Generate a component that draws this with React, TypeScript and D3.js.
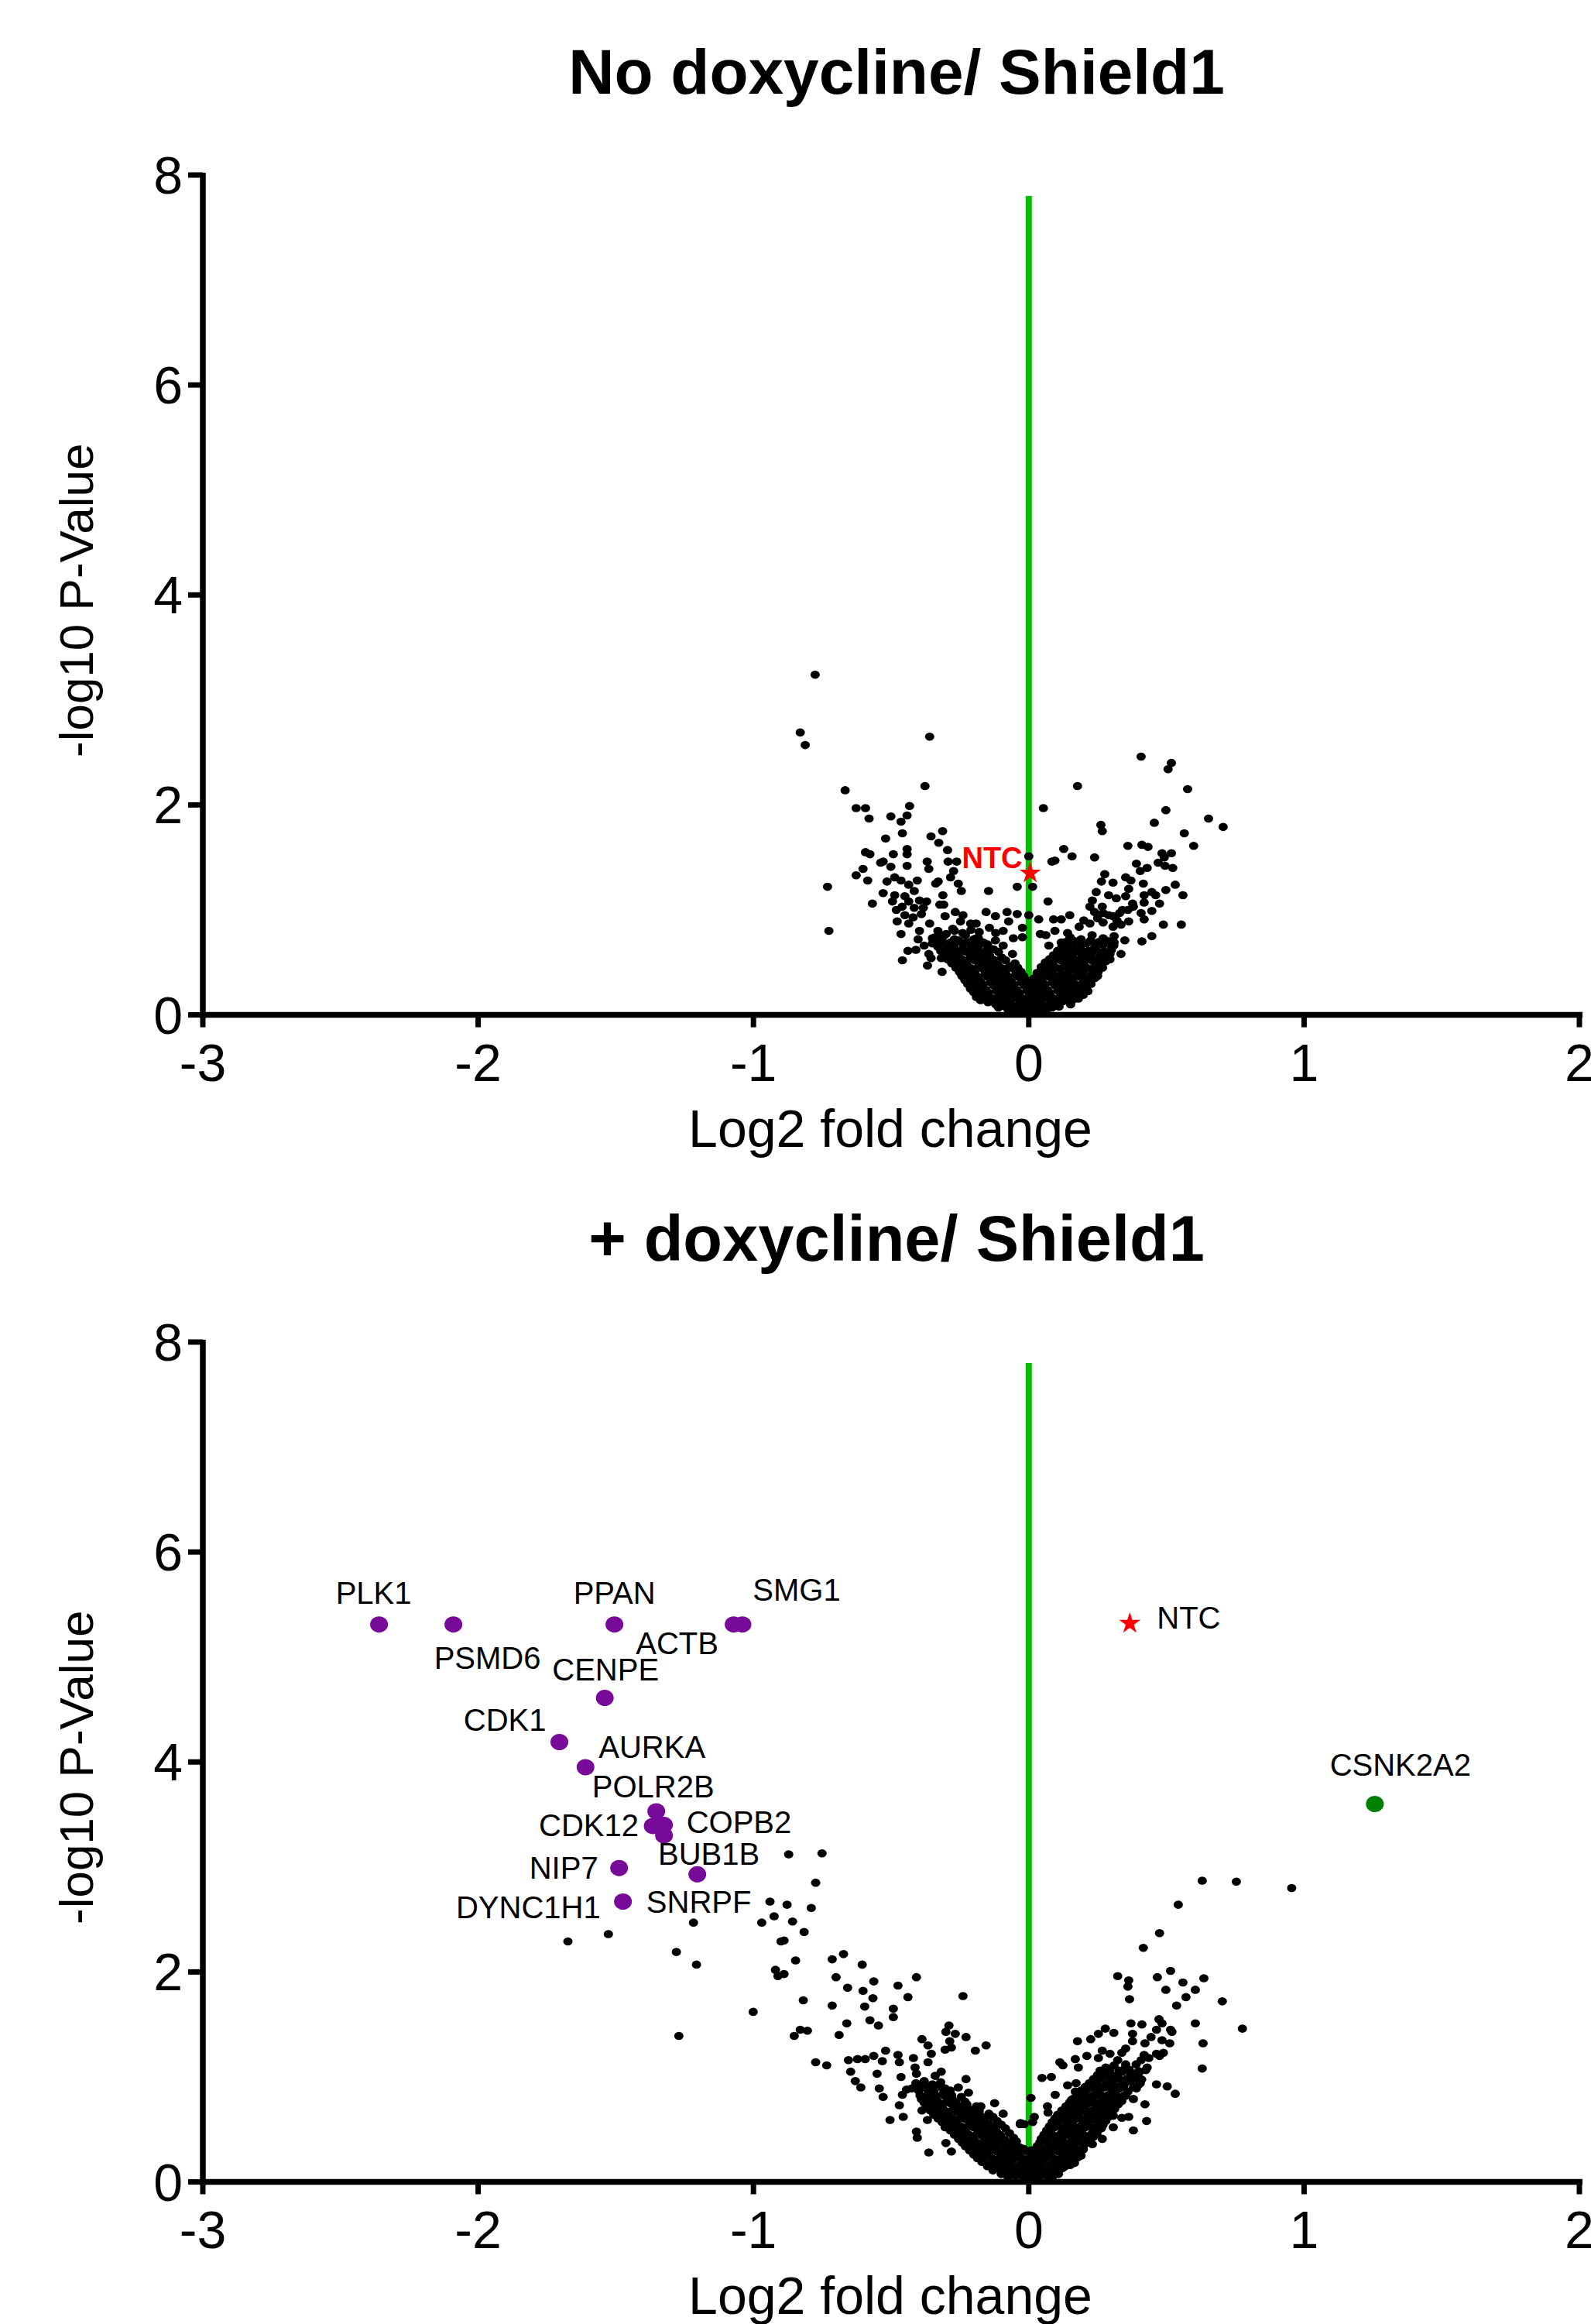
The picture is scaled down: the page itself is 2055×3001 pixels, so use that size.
import React from 'react';
import * as d3 from 'd3';

const xTicks = [-3, -2, -1, 0, 1, 2];
const yTicks = [0, 2, 4, 6, 8];

// ---- No doxycline / Shield1 : [log2 FC, -log10 p] ----
const noDoxSpread: [number, number][] = [
  [-0.776, 3.24],
  [-0.830, 2.69], [-0.812, 2.57], [-0.360, 2.65], [-0.667, 2.14], [-0.377, 2.18], [-0.627, 1.97], [-0.593, 1.97],
  [-0.580, 1.87], [-0.433, 1.99], [-0.501, 1.89], [-0.442, 1.90], [-0.464, 1.84], [-0.459, 1.73], [-0.520, 1.68],
  [-0.313, 1.75], [-0.355, 1.70], [-0.327, 1.64], [-0.295, 1.57], [-0.442, 1.58], [-0.442, 1.53], [-0.492, 1.53],
  [-0.593, 1.55], [-0.577, 1.53], [-0.538, 1.45], [-0.529, 1.46], [-0.501, 1.41], [-0.442, 1.42], [-0.369, 1.46],
  [-0.363, 1.39], [-0.293, 1.46], [-0.262, 1.46], [-0.273, 1.37], [-0.284, 1.31], [-0.256, 1.25], [-0.245, 1.18],
  [-0.602, 1.39], [-0.627, 1.33], [-0.585, 1.28], [-0.731, 1.22], [-0.726, 0.80], [-0.568, 1.06], [-0.515, 1.27],
  [-0.487, 1.31], [-0.464, 1.28], [-0.436, 1.24], [-0.416, 1.18], [-0.405, 1.28], [-0.529, 1.16], [-0.487, 1.14],
  [-0.495, 1.08], [-0.450, 1.13], [-0.436, 1.08], [-0.397, 1.09], [-0.371, 1.08], [-0.481, 1.00], [-0.416, 1.02],
  [-0.383, 1.02], [-0.338, 1.25], [-0.329, 1.27], [-0.312, 1.14], [-0.323, 1.05], [-0.309, 1.05], [-0.146, 1.18],
  [-0.042, 1.22], [0.014, 1.22], [0.0, 1.51], [0.053, 1.97], [0.084, 1.46], [0.070, 1.08], [-0.478, 0.89],
  [-0.464, 0.77], [-0.439, 0.61], [-0.459, 0.52], [-0.368, 0.47], [-0.315, 0.41], [-0.318, 0.54], [-0.363, 0.58],
  [-0.355, 0.54], [-0.402, 0.72], [-0.397, 0.80], [-0.436, 0.87], [-0.360, 0.87], [-0.340, 0.74], [-0.304, 0.94],
  [-0.267, 0.98], [-0.239, 0.95], [-0.248, 0.89], [-0.276, 0.82], [-0.191, 0.87], [-0.155, 0.98], [-0.121, 0.94],
  [-0.079, 0.98], [-0.042, 0.96], [0.0, 0.95], [0.036, 0.91], [-0.073, 0.89], [-0.143, 0.83], [-0.023, 0.83],
  [-0.093, 0.80], [-0.056, 0.73], [-0.121, 0.71], [-0.093, 0.66], [-0.023, 0.74], [0.062, 0.76], [0.073, 0.66],
  [0.042, 0.77], [-0.059, 0.58], [-0.211, 0.87], [-0.183, 0.73], [-0.149, 0.67], [-0.200, 0.28], [-0.228, 0.43],
  [0.408, 2.46], [0.518, 2.40], [0.506, 2.34], [0.177, 2.18], [0.577, 2.15], [0.498, 1.95], [0.653, 1.87],
  [0.706, 1.79], [0.456, 1.83], [0.262, 1.81], [0.267, 1.75], [0.565, 1.73], [0.360, 1.61], [0.411, 1.62],
  [0.433, 1.60], [0.599, 1.61], [0.127, 1.58], [0.157, 1.51], [0.095, 1.47], [0.239, 1.50], [0.484, 1.54],
  [0.518, 1.54], [0.492, 1.50], [0.470, 1.45], [0.391, 1.44], [0.430, 1.40], [0.495, 1.42], [0.523, 1.40],
  [0.405, 1.37], [0.276, 1.34], [0.352, 1.31], [0.264, 1.27], [0.306, 1.26], [0.371, 1.28], [0.416, 1.25],
  [0.532, 1.24], [0.498, 1.19], [0.363, 1.20], [0.245, 1.17], [0.290, 1.14], [0.318, 1.11], [0.352, 1.13],
  [0.419, 1.14], [0.447, 1.17], [0.461, 1.14], [0.560, 1.14], [0.475, 1.06], [0.419, 1.07], [0.377, 1.06],
  [0.231, 1.09], [0.222, 1.03], [0.267, 1.03], [0.270, 0.97], [0.239, 0.98], [0.340, 1.00], [0.408, 0.97],
  [0.447, 0.99], [0.419, 0.91], [0.363, 0.89], [0.489, 0.86], [0.554, 0.86], [0.447, 0.75], [0.411, 0.70],
  [0.149, 0.95], [0.118, 0.91], [0.090, 0.91], [0.095, 0.80], [0.141, 0.78], [0.183, 0.84], [0.222, 0.87],
  [0.306, 0.94], [0.335, 0.86], [0.306, 0.84], [0.349, 0.71], [0.335, 0.58], [0.309, 0.66], [0.273, 0.69],
  [0.188, 0.71], [0.155, 0.66], [0.118, 0.69], [0.250, 0.43], [0.236, 0.35], [0.197, 0.27], [0.183, 0.22],
  [0.278, 0.55], [0.295, 0.58], [0.231, 0.61], [0.20, 0.90], [0.25, 0.92], [0.29, 0.95], [0.33, 0.97],
  [0.36, 1.00], [0.38, 1.03], [0.32, 0.90], [0.27, 0.88],
  [-0.33, 0.80], [-0.30, 0.77], [-0.27, 0.80], [-0.24, 0.78], [-0.21, 0.81], [-0.18, 0.79], [-0.12, 0.78],
  [-0.26, 0.70], [-0.20, 0.72], [-0.38, 0.66], [-0.41, 0.62], [-0.35, 0.68], [-0.45, 0.95], [-0.42, 0.93],
  [-0.39, 0.96], [-0.46, 1.03],
];

// dense core of the no-dox cloud
const noDoxCore: [number, number][] = [
  [-0.075, 0.05], [-0.05, 0.03], [-0.025, 0.06], [0.0, 0.04], [0.022, 0.05], [0.048, 0.03], [0.07, 0.06], [-0.01, 0.02],
  [-0.11, 0.07], [-0.085, 0.08], [-0.06, 0.06], [-0.035, 0.08], [-0.012, 0.07], [0.012, 0.08], [0.036, 0.06],
  [0.06, 0.08], [0.085, 0.07], [0.11, 0.08],
  [-0.148, 0.12], [-0.12, 0.10], [-0.094, 0.13], [-0.066, 0.11], [-0.04, 0.09], [-0.012, 0.12], [0.015, 0.10],
  [0.043, 0.12], [0.07, 0.09], [0.097, 0.11], [0.125, 0.13], [0.152, 0.10],
  [-0.175, 0.14], [-0.15, 0.155], [-0.122, 0.145], [-0.094, 0.15], [-0.066, 0.14], [-0.038, 0.155], [-0.01, 0.145],
  [0.018, 0.15], [0.046, 0.14], [0.074, 0.155], [0.102, 0.145], [0.13, 0.15], [0.158, 0.14], [0.18, 0.155],
  [-0.19, 0.17], [-0.163, 0.19], [-0.135, 0.16], [-0.108, 0.19], [-0.08, 0.17], [-0.052, 0.20], [-0.024, 0.16],
  [0.004, 0.19], [0.032, 0.17], [0.06, 0.20], [0.088, 0.16], [0.116, 0.18], [0.144, 0.20], [0.172, 0.17], [0.198, 0.19],
  [-0.20, 0.215], [-0.174, 0.225], [-0.146, 0.21], [-0.118, 0.23], [-0.09, 0.215], [-0.062, 0.225], [-0.034, 0.21],
  [-0.006, 0.23], [0.022, 0.215], [0.05, 0.225], [0.078, 0.21], [0.106, 0.23], [0.134, 0.215], [0.162, 0.225],
  [0.19, 0.21], [0.215, 0.225],
  [-0.212, 0.25], [-0.184, 0.27], [-0.156, 0.24], [-0.128, 0.28], [-0.10, 0.25], [-0.072, 0.27], [-0.044, 0.24],
  [-0.016, 0.28], [0.012, 0.25], [0.04, 0.27], [0.068, 0.24], [0.096, 0.28], [0.124, 0.25], [0.152, 0.27],
  [0.18, 0.24], [0.21, 0.27],
  [-0.222, 0.295], [-0.194, 0.305], [-0.166, 0.29], [-0.138, 0.31], [-0.11, 0.295], [-0.082, 0.305], [-0.054, 0.29],
  [-0.026, 0.31], [0.002, 0.295], [0.03, 0.305], [0.058, 0.29], [0.086, 0.31], [0.114, 0.295], [0.142, 0.305],
  [0.17, 0.29], [0.198, 0.31], [0.226, 0.295],
  [-0.232, 0.33], [-0.204, 0.35], [-0.176, 0.32], [-0.148, 0.36], [-0.12, 0.33], [-0.092, 0.35], [-0.064, 0.32],
  [-0.036, 0.36], [-0.008, 0.33], [0.02, 0.35], [0.048, 0.32], [0.076, 0.36], [0.104, 0.33], [0.132, 0.35],
  [0.16, 0.32], [0.188, 0.36], [0.216, 0.33], [0.24, 0.35],
  [-0.243, 0.37], [-0.215, 0.38], [-0.187, 0.365], [-0.159, 0.385], [-0.131, 0.37], [-0.103, 0.38], [-0.075, 0.365],
  [-0.047, 0.385], [-0.019, 0.37], [0.034, 0.375], [0.062, 0.38], [0.09, 0.365], [0.118, 0.385], [0.146, 0.37],
  [0.174, 0.38], [0.202, 0.365], [0.23, 0.385], [0.25, 0.37],
  [-0.252, 0.41], [-0.224, 0.43], [-0.196, 0.40], [-0.168, 0.44], [-0.14, 0.41], [-0.112, 0.43], [-0.084, 0.40],
  [-0.056, 0.44], [-0.028, 0.41], [0.03, 0.40], [0.058, 0.43], [0.086, 0.41], [0.114, 0.44], [0.142, 0.40],
  [0.17, 0.43], [0.198, 0.41], [0.226, 0.44], [0.252, 0.41],
  [-0.265, 0.45], [-0.238, 0.46], [-0.21, 0.445], [-0.182, 0.465], [-0.154, 0.45], [-0.126, 0.46], [-0.098, 0.445],
  [-0.07, 0.465], [-0.04, 0.45], [0.045, 0.455], [0.073, 0.46], [0.101, 0.445], [0.129, 0.465], [0.157, 0.45],
  [0.185, 0.46], [0.213, 0.445], [0.241, 0.465], [0.268, 0.45],
  [-0.28, 0.49], [-0.252, 0.51], [-0.224, 0.48], [-0.196, 0.52], [-0.168, 0.49], [-0.14, 0.51], [-0.112, 0.48],
  [-0.084, 0.52], [-0.05, 0.49], [0.06, 0.50], [0.088, 0.48], [0.116, 0.52], [0.144, 0.49], [0.172, 0.51],
  [0.20, 0.48], [0.228, 0.52], [0.256, 0.49], [0.28, 0.51],
  [-0.295, 0.53], [-0.268, 0.54], [-0.24, 0.525], [-0.212, 0.545], [-0.184, 0.53], [-0.156, 0.54], [-0.128, 0.525],
  [-0.098, 0.545], [0.075, 0.53], [0.103, 0.54], [0.131, 0.525], [0.159, 0.545], [0.187, 0.53], [0.215, 0.54],
  [0.243, 0.525], [0.27, 0.545], [0.295, 0.53],
  [-0.31, 0.57], [-0.282, 0.59], [-0.254, 0.56], [-0.226, 0.60], [-0.198, 0.57], [-0.17, 0.59], [-0.142, 0.56],
  [-0.11, 0.60], [0.09, 0.57], [0.118, 0.59], [0.146, 0.56], [0.174, 0.60], [0.20, 0.57], [0.23, 0.59],
  [0.26, 0.56], [0.29, 0.58],
  [-0.32, 0.61], [-0.295, 0.62], [-0.268, 0.605], [-0.24, 0.625], [-0.212, 0.61], [-0.184, 0.62], [-0.156, 0.605],
  [-0.128, 0.625], [0.105, 0.61], [0.133, 0.62], [0.161, 0.605], [0.189, 0.625], [0.217, 0.61], [0.245, 0.62],
  [0.273, 0.605], [0.30, 0.62],
  [-0.33, 0.65], [-0.30, 0.67], [-0.27, 0.64], [-0.24, 0.68], [-0.21, 0.65], [-0.18, 0.67], [-0.15, 0.64],
  [0.12, 0.65], [0.15, 0.67], [0.18, 0.64], [0.21, 0.68], [0.24, 0.65], [0.27, 0.67], [0.30, 0.64],
  [-0.34, 0.695], [-0.315, 0.705], [-0.285, 0.69], [-0.255, 0.71], [-0.225, 0.695], [-0.195, 0.705], [-0.165, 0.69],
  [0.135, 0.695], [0.165, 0.705], [0.195, 0.69], [0.225, 0.71], [0.255, 0.695], [0.285, 0.705], [0.31, 0.69],
  [-0.35, 0.73], [-0.31, 0.75], [-0.27, 0.72], [-0.23, 0.76], [-0.19, 0.73], [0.15, 0.74], [0.19, 0.72],
  [0.23, 0.76], [0.27, 0.73], [0.31, 0.75],
];

const noDoxNTC: [number, number] = [0.005, 1.35];

// ---- + doxycline / Shield1 ----
const doxSpread: [number, number][] = [
  [-1.674, 2.29], [-1.527, 2.36], [-1.218, 2.47], [-1.280, 2.19], [-1.207, 2.07], [-1.271, 1.39], [-1.001, 1.62],
  [-0.940, 2.67], [-0.925, 2.53], [-0.970, 2.47], [-0.900, 2.29], [-0.920, 2.02], [-0.911, 1.96],
  [-0.872, 3.12], [-0.751, 3.13], [-0.774, 2.85], [-0.878, 2.64], [-0.790, 2.61], [-0.858, 2.48], [-0.816, 2.38],
  [-0.889, 2.30], [-0.847, 2.11], [-0.889, 1.98], [-0.714, 2.12], [-0.673, 2.17], [-0.605, 2.07], [-0.700, 1.95],
  [-0.658, 1.85], [-0.563, 1.91], [-0.602, 1.82], [-0.566, 1.75], [-0.475, 1.87], [-0.408, 1.95], [-0.439, 1.76],
  [-0.239, 1.77], [-0.819, 1.73], [-0.714, 1.68], [-0.596, 1.67], [-0.492, 1.65], [-0.492, 1.57], [-0.661, 1.51],
  [-0.577, 1.54], [-0.546, 1.49], [-0.689, 1.40], [-0.852, 1.39], [-0.830, 1.45], [-0.804, 1.44], [-0.774, 1.14],
  [-0.734, 1.11], [-0.655, 1.16], [-0.622, 1.17], [-0.594, 1.17], [-0.563, 1.20], [-0.520, 1.25], [-0.532, 1.15],
  [-0.475, 1.21], [-0.470, 1.14], [-0.419, 1.18], [-0.366, 1.14], [-0.388, 1.36], [-0.366, 1.30], [-0.354, 1.22],
  [-0.290, 1.49], [-0.301, 1.43], [-0.267, 1.41], [-0.287, 1.34], [-0.304, 1.26], [-0.281, 1.28], [-0.228, 1.38],
  [-0.194, 1.25], [-0.155, 1.30], [-0.647, 1.05], [-0.630, 0.96], [-0.610, 0.90], [-0.551, 1.03], [-0.543, 0.89],
  [-0.529, 0.81], [-0.464, 1.00], [-0.413, 1.09], [-0.408, 1.03], [-0.459, 0.83], [-0.470, 0.73], [-0.456, 0.62],
  [-0.504, 0.59], [-0.408, 0.48], [-0.405, 0.42], [-0.363, 0.28], [-0.281, 0.29], [-0.301, 0.37], [-0.388, 0.68],
  [-0.444, 0.88], [-0.425, 0.89], [-0.380, 0.94], [-0.340, 1.01], [-0.318, 1.05], [-0.340, 0.81], [-0.332, 0.72],
  [-0.368, 0.59], [-0.304, 0.89], [-0.256, 0.90], [-0.228, 0.98], [-0.219, 0.85], [-0.284, 0.77], [-0.239, 0.72],
  [-0.174, 0.72], [-0.124, 0.75], [-0.093, 0.65], [-0.031, 0.55], [-0.312, 0.59], [-0.304, 0.52], [-0.219, 0.59],
  [-0.183, 0.52], [-0.228, 0.35], [-0.155, 0.47], [-0.107, 0.55], [-0.098, 0.10],
  [0.630, 2.87], [0.754, 2.86], [0.955, 2.80], [0.543, 2.64], [0.475, 2.37], [0.416, 2.23], [0.323, 1.96],
  [0.363, 1.92], [0.360, 1.86], [0.366, 1.74], [0.467, 1.95], [0.515, 2.01], [0.498, 1.83], [0.560, 1.90],
  [0.636, 1.94], [0.605, 1.83], [0.571, 1.76], [0.537, 1.68], [0.703, 1.72], [0.605, 1.51], [0.776, 1.46],
  [0.633, 1.32], [0.630, 1.08], [0.371, 1.51], [0.411, 1.50], [0.473, 1.55], [0.484, 1.51], [0.464, 1.45],
  [0.515, 1.45], [0.520, 1.43], [0.377, 1.41], [0.444, 1.38], [0.484, 1.35], [0.512, 1.32], [0.422, 1.32],
  [0.377, 1.34], [0.278, 1.46], [0.309, 1.42], [0.253, 1.41], [0.225, 1.36], [0.177, 1.34], [0.352, 1.27],
  [0.338, 1.23], [0.295, 1.22], [0.267, 1.25], [0.253, 1.18], [0.211, 1.20], [0.169, 1.17], [0.113, 1.14],
  [0.124, 1.11], [0.180, 1.09], [0.419, 1.21], [0.436, 1.18], [0.464, 1.22], [0.489, 1.23], [0.475, 1.20],
  [0.408, 1.16], [0.323, 1.16], [0.352, 1.12], [0.048, 0.99], [0.082, 1.00], [0.141, 0.92], [0.172, 0.94],
  [0.096, 0.83], [0.169, 0.86], [0.242, 0.96], [0.259, 1.06], [0.287, 1.03], [0.329, 1.06], [0.349, 0.94],
  [0.385, 1.03], [0.405, 0.94], [0.391, 0.89], [0.464, 0.93], [0.503, 0.91], [0.532, 0.84], [0.352, 0.82],
  [0.380, 0.79], [0.422, 0.74], [0.428, 0.58], [0.380, 0.49], [0.363, 0.62], [0.338, 0.61], [0.307, 0.52],
  [0.307, 0.63], [0.264, 0.51], [0.267, 0.41], [0.231, 0.36], [0.068, 0.72], [0.070, 0.66], [0.008, 0.80],
  [0.020, 0.62], [0.014, 0.57], [0.155, 0.78], [-0.017, 0.55], [-0.03, 0.56], [0.098, 0.14], [0.062, 0.07],
];

// dense V-shaped core of the dox cloud
const doxCore: [number, number][] = [
  [-0.075, 0.04], [-0.048, 0.06], [-0.02, 0.03], [0.008, 0.05], [0.036, 0.03], [0.064, 0.06], [0.085, 0.04],
  [-0.10, 0.075], [-0.074, 0.08], [-0.046, 0.07], [-0.018, 0.085], [0.01, 0.075], [0.038, 0.08], [0.066, 0.07],
  [0.094, 0.085], [0.108, 0.075],
  [-0.13, 0.11], [-0.102, 0.13], [-0.074, 0.10], [-0.046, 0.12], [-0.018, 0.10], [0.01, 0.13], [0.038, 0.11],
  [0.066, 0.12], [0.094, 0.10], [0.122, 0.13],
  [-0.15, 0.15], [-0.122, 0.155], [-0.094, 0.145], [-0.066, 0.16], [-0.038, 0.15], [-0.01, 0.155], [0.018, 0.145],
  [0.046, 0.16], [0.074, 0.15], [0.102, 0.155], [0.13, 0.145], [0.15, 0.16],
  [-0.17, 0.19], [-0.142, 0.17], [-0.114, 0.20], [-0.086, 0.18], [-0.058, 0.21], [-0.03, 0.17], [-0.002, 0.20],
  [0.026, 0.18], [0.054, 0.21], [0.082, 0.17], [0.11, 0.19], [0.138, 0.20], [0.166, 0.18],
  [-0.186, 0.225], [-0.158, 0.235], [-0.13, 0.22], [-0.102, 0.24], [-0.074, 0.225], [-0.046, 0.235], [-0.018, 0.22],
  [0.01, 0.24], [0.038, 0.225], [0.066, 0.235], [0.094, 0.22], [0.122, 0.24], [0.15, 0.225], [0.178, 0.235],
  [-0.20, 0.26], [-0.172, 0.28], [-0.144, 0.25], [-0.116, 0.29], [-0.088, 0.26], [-0.06, 0.28], [-0.032, 0.25],
  [-0.004, 0.29], [0.024, 0.26], [0.052, 0.28], [0.08, 0.25], [0.108, 0.29], [0.136, 0.26], [0.164, 0.28], [0.19, 0.25],
  [-0.215, 0.30], [-0.187, 0.31], [-0.159, 0.295], [-0.131, 0.315], [-0.103, 0.30], [-0.075, 0.31], [-0.047, 0.295],
  [-0.019, 0.315], [0.009, 0.30], [0.037, 0.31], [0.065, 0.295], [0.093, 0.315], [0.121, 0.30], [0.149, 0.31],
  [0.177, 0.295], [0.198, 0.31],
  [-0.23, 0.34], [-0.202, 0.32], [-0.174, 0.35], [-0.146, 0.33], [-0.118, 0.36], [-0.09, 0.32], [-0.062, 0.35],
  [-0.034, 0.33], [0.03, 0.34], [0.058, 0.32], [0.086, 0.35], [0.114, 0.33], [0.142, 0.36], [0.17, 0.32], [0.20, 0.35],
  [-0.242, 0.375], [-0.214, 0.385], [-0.186, 0.37], [-0.158, 0.39], [-0.13, 0.375], [-0.102, 0.385], [-0.074, 0.37],
  [-0.045, 0.385], [0.04, 0.375], [0.068, 0.385], [0.096, 0.37], [0.124, 0.39], [0.152, 0.375], [0.18, 0.385],
  [0.208, 0.37], [0.222, 0.39],
  [-0.255, 0.41], [-0.227, 0.43], [-0.199, 0.40], [-0.171, 0.44], [-0.143, 0.41], [-0.115, 0.43], [-0.087, 0.40],
  [-0.055, 0.42], [0.045, 0.41], [0.073, 0.43], [0.101, 0.40], [0.129, 0.44], [0.157, 0.41], [0.185, 0.43],
  [0.213, 0.40], [0.235, 0.43],
  [-0.27, 0.45], [-0.242, 0.46], [-0.214, 0.445], [-0.186, 0.465], [-0.158, 0.45], [-0.13, 0.46], [-0.102, 0.445],
  [-0.07, 0.465], [0.055, 0.45], [0.083, 0.46], [0.111, 0.445], [0.139, 0.465], [0.167, 0.45], [0.195, 0.46],
  [0.223, 0.445], [0.248, 0.465],
  [-0.285, 0.49], [-0.257, 0.51], [-0.229, 0.48], [-0.201, 0.52], [-0.173, 0.49], [-0.145, 0.51], [-0.117, 0.48],
  [-0.085, 0.51], [0.065, 0.49], [0.093, 0.52], [0.121, 0.48], [0.149, 0.51], [0.177, 0.49], [0.205, 0.52],
  [0.233, 0.48], [0.26, 0.51],
  [-0.30, 0.53], [-0.272, 0.54], [-0.244, 0.525], [-0.216, 0.545], [-0.188, 0.53], [-0.16, 0.54], [-0.132, 0.525],
  [-0.10, 0.545], [0.075, 0.53], [0.103, 0.54], [0.131, 0.525], [0.159, 0.545], [0.187, 0.53], [0.215, 0.54],
  [0.243, 0.525], [0.27, 0.545],
  [-0.315, 0.57], [-0.287, 0.59], [-0.259, 0.56], [-0.231, 0.60], [-0.203, 0.57], [-0.175, 0.59], [-0.147, 0.56],
  [-0.115, 0.58], [0.085, 0.57], [0.113, 0.59], [0.141, 0.56], [0.169, 0.60], [0.197, 0.57], [0.225, 0.59],
  [0.253, 0.56], [0.28, 0.58],
  [-0.33, 0.605], [-0.302, 0.615], [-0.274, 0.60], [-0.246, 0.62], [-0.218, 0.605], [-0.19, 0.615], [-0.162, 0.60],
  [-0.13, 0.62], [0.095, 0.605], [0.123, 0.615], [0.151, 0.60], [0.179, 0.62], [0.207, 0.605], [0.235, 0.615],
  [0.263, 0.60], [0.29, 0.62],
  [-0.345, 0.64], [-0.317, 0.66], [-0.289, 0.63], [-0.261, 0.67], [-0.233, 0.64], [-0.205, 0.66], [-0.177, 0.63],
  [-0.145, 0.65], [0.105, 0.64], [0.133, 0.66], [0.161, 0.63], [0.189, 0.67], [0.217, 0.64], [0.245, 0.66],
  [0.273, 0.63], [0.30, 0.65],
  [-0.358, 0.68], [-0.33, 0.69], [-0.302, 0.675], [-0.274, 0.695], [-0.246, 0.68], [-0.215, 0.69], [-0.18, 0.675],
  [0.12, 0.68], [0.148, 0.69], [0.176, 0.675], [0.204, 0.695], [0.232, 0.68], [0.26, 0.69], [0.288, 0.675], [0.312, 0.695],
  [-0.37, 0.72], [-0.342, 0.74], [-0.314, 0.71], [-0.286, 0.75], [-0.258, 0.72], [-0.225, 0.74], [-0.19, 0.72],
  [0.135, 0.72], [0.163, 0.74], [0.191, 0.71], [0.219, 0.75], [0.247, 0.72], [0.275, 0.74], [0.303, 0.71], [0.325, 0.74],
  [-0.38, 0.755], [-0.352, 0.765], [-0.324, 0.75], [-0.296, 0.77], [-0.265, 0.755], [-0.232, 0.765], [0.148, 0.755],
  [0.176, 0.765], [0.204, 0.75], [0.232, 0.77], [0.26, 0.755], [0.288, 0.765], [0.316, 0.75], [0.338, 0.77],
  [-0.39, 0.79], [-0.362, 0.81], [-0.334, 0.78], [-0.306, 0.82], [-0.278, 0.79], [-0.245, 0.81], [0.16, 0.79],
  [0.188, 0.81], [0.216, 0.78], [0.244, 0.82], [0.272, 0.79], [0.30, 0.81], [0.33, 0.78],
  [-0.395, 0.825], [-0.367, 0.835], [-0.339, 0.82], [-0.311, 0.84], [-0.28, 0.825], [0.175, 0.825], [0.203, 0.835],
  [0.231, 0.82], [0.259, 0.84], [0.287, 0.825], [0.315, 0.835], [0.345, 0.82],
  [-0.40, 0.87], [-0.372, 0.89], [-0.344, 0.86], [-0.316, 0.90], [-0.285, 0.87], [0.19, 0.87], [0.218, 0.89],
  [0.246, 0.86], [0.274, 0.90], [0.302, 0.87], [0.33, 0.89], [0.36, 0.86],
  [-0.405, 0.905], [-0.377, 0.915], [-0.35, 0.90], [-0.32, 0.915], [0.205, 0.905], [0.233, 0.915], [0.261, 0.90],
  [0.289, 0.92], [0.317, 0.905], [0.345, 0.915], [0.38, 0.90],
  [-0.41, 0.94], [-0.38, 0.96], [-0.35, 0.93], [-0.32, 0.95], [0.22, 0.94], [0.25, 0.96], [0.28, 0.93],
  [0.31, 0.97], [0.34, 0.94], [0.37, 0.96], [0.40, 0.93],
  [0.235, 0.98], [0.265, 0.99], [0.295, 0.975], [0.325, 0.995], [0.355, 0.98], [0.385, 0.99], [0.41, 0.975],
  [0.25, 1.02], [0.28, 1.04], [0.31, 1.01], [0.34, 1.05], [0.37, 1.02], [0.40, 1.04],
  [0.265, 1.055], [0.295, 1.065], [0.33, 1.05], [0.365, 1.07], [0.40, 1.055], [0.425, 1.065],
  [0.28, 1.09], [0.31, 1.11], [0.35, 1.08], [0.39, 1.12], [0.43, 1.09],
];

const doxHitGenes = ['PLK1', 'PSMD6', 'PPAN', 'ACTB', 'SMG1', 'CENPE', 'CDK1', 'AURKA', 'POLR2B', 'CDK12', 'COPB2', 'BUB1B', 'NIP7', 'SNRPF', 'DYNC1H1'];
const doxHitFC = [-2.36, -2.09, -1.505, -1.072, -1.04, -1.54, -1.705, -1.61, -1.353, -1.366, -1.325, -1.325, -1.488, -1.204, -1.474];
const doxHitP = [5.31, 5.31, 5.31, 5.31, 5.31, 4.61, 4.19, 3.95, 3.53, 3.39, 3.40, 3.30, 2.99, 2.93, 2.67];

const doxUpGenes = ['CSNK2A2'];
const doxUpFC = [1.257];
const doxUpP = [3.60];

const doxNTC: [number, number] = [0.367, 5.32];

// label placement relative to the dot (px): dx, dy, anchor
const labelPos: Record<string, [number, number, string]> = {
  PLK1: [-7, -27, 'middle'], PSMD6: [44, 57, 'middle'], PPAN: [0, -27, 'middle'], ACTB: [-73, 38, 'middle'],
  SMG1: [70, -31, 'middle'], CENPE: [1, -23, 'middle'], CDK1: [-17, -14, 'end'], AURKA: [17, -12, 'start'],
  POLR2B: [-4, -18, 'middle'], CDK12: [-18, 13, 'end'], COPB2: [29, 10, 'start'], BUB1B: [58, 38, 'middle'],
  NIP7: [-27, 14, 'end'], SNRPF: [2, 50, 'middle'], DYNC1H1: [-29, 21, 'end'], CSNK2A2: [33, -36, 'middle'],
};

const font = "'Liberation Sans', Arial, sans-serif";
const x = d3.scaleLinear().domain([-3, 2]).range([262, 2040]);
const star = d3.symbol(d3.symbolStar, 240)();

function Panel(props: any) {
  const { top, title, titleSize, points, ntc, boldNtc, hits } = props;
  const y = d3.scaleLinear().domain([0, 8]).range([top + 1084.5, top]);
  const y0 = y(0);
  const y8 = y(8);

  return (
    <g>
      <text x={1158} y={y8 - 105} textAnchor="middle" fontFamily={font} fontWeight="bold" fontSize={titleSize}>{title}</text>

      {/* zero line */}
      <line x1={x(0)} x2={x(0)} y1={y0} y2={y(7.8)} stroke="#00c000" strokeWidth={8} />

      {/* axes */}
      <line x1={x(-3)} x2={x(-3)} y1={y8 - 3} y2={y0 + 4} stroke="#000" strokeWidth={7.5} />
      <line x1={x(-3) - 4} x2={x(2) + 4} y1={y0} y2={y0} stroke="#000" strokeWidth={7.5} />
      {yTicks.map((t) => (
        <g key={'y' + t}>
          <line x1={x(-3) - 19} x2={x(-3)} y1={y(t)} y2={y(t)} stroke="#000" strokeWidth={7} />
          <text x={236} y={y(t) + 24} textAnchor="end" fontFamily={font} fontSize={68}>{t}</text>
        </g>
      ))}
      {xTicks.map((t) => (
        <g key={'x' + t}>
          <line x1={x(t)} x2={x(t)} y1={y0} y2={y0 + 16} stroke="#000" strokeWidth={7} />
          <text x={x(t)} y={y0 + 85} textAnchor="middle" fontFamily={font} fontSize={68}>{t}</text>
        </g>
      ))}
      <text x={1150} y={y0 + 170} textAnchor="middle" fontFamily={font} fontSize={68}>Log2 fold change</text>
      <text transform={`translate(120,${(y0 + y8) / 2 + 7}) rotate(-90)`} textAnchor="middle" fontFamily={font} fontSize={62}>-log10 P-Value</text>

      {/* screened sgRNAs */}
      {points.map((d: [number, number], i: number) => (
        <ellipse key={i} cx={x(d[0])} cy={y(d[1])} rx={6} ry={5.3} fill="#000" />
      ))}

      {hits.map((h: any) => (
        <g key={h.gene}>
          <ellipse cx={x(h.fc)} cy={y(h.p)} rx={11.5} ry={10.5} fill={h.color} />
          <text x={x(h.fc) + labelPos[h.gene][0]} y={y(h.p) + labelPos[h.gene][1]}
            textAnchor={labelPos[h.gene][2]} fontFamily={font} fontSize={40}>{h.gene}</text>
        </g>
      ))}

      {/* non-targeting control */}
      <path d={star as string} transform={`translate(${x(ntc[0])},${y(ntc[1])})`} fill="#ff0000" />
      {boldNtc ? (
        <text x={x(ntc[0]) - 10} y={y(ntc[1]) - 6} textAnchor="end" fontFamily={font} fontWeight="bold" fontSize={38} fill="#ff0000">NTC</text>
      ) : (
        <text x={x(ntc[0]) + 35} y={y(ntc[1]) + 7} textAnchor="start" fontFamily={font} fontSize={40} fill="#000">NTC</text>
      )}
    </g>
  );
}

export default function App() {
  const hits = [
    ...doxHitGenes.map((g, i) => ({ gene: g, fc: doxHitFC[i], p: doxHitP[i], color: '#770a98' })),
    ...doxUpGenes.map((g, i) => ({ gene: g, fc: doxUpFC[i], p: doxUpP[i], color: '#008000' })),
  ];

  return (
    <svg width={2055} height={3001} style={{ position: 'absolute', left: 0, top: 0, background: '#fff' }}>
      <rect width={2055} height={3001} fill="#fff" />
      <Panel top={226} title="No doxycline/ Shield1" titleSize={82} points={[...noDoxCore, ...noDoxSpread]} ntc={noDoxNTC} boldNtc hits={[]} />
      <Panel top={1733} title="+ doxycline/ Shield1" titleSize={83} points={[...doxCore, ...doxSpread]} ntc={doxNTC} boldNtc={false} hits={hits} />
    </svg>
  );
}
